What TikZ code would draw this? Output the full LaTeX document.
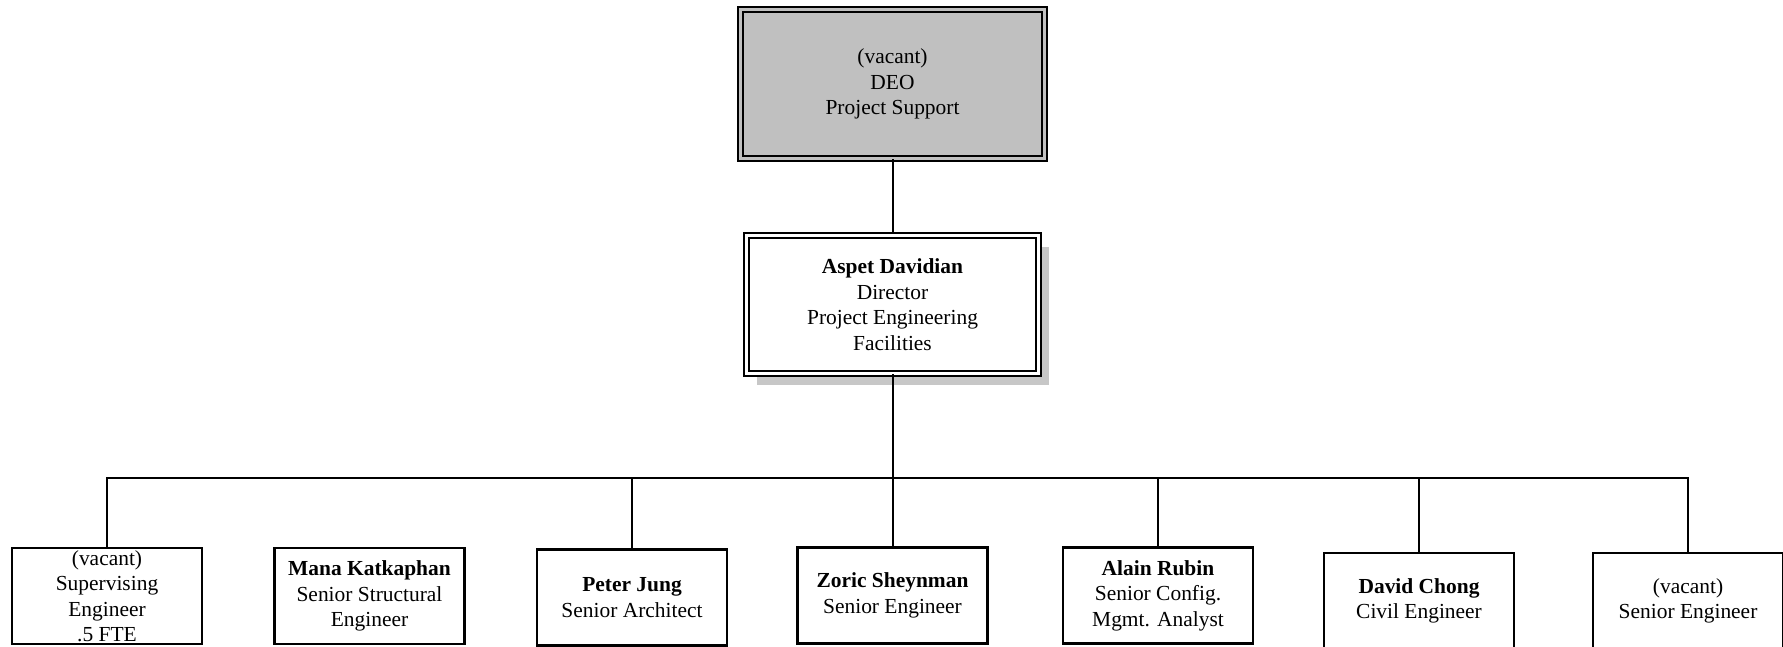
\documentclass[tikz,border=0pt]{standalone}
\usepackage{fontspec}
\setmainfont{Liberation Serif}
\definecolor{ocgray}{RGB}{192,192,192}
\usetikzlibrary{positioning,shadows}

\begin{document}
\begin{tikzpicture}[
  font=\fontsize{12.2}{14.5}\selectfont,
  headbox/.style={draw, double, line width=0.04cm, double distance=0.06cm, align=center, inner sep=0pt},
  staffbox/.style={draw, line width=0.045cm, fill=white, minimum width=3.8cm, minimum height=1.92cm, align=center, inner sep=0pt},
  link/.style={line width=0.04cm}
]
  \useasboundingbox (0,0) rectangle (35.66,12.94);
  \clip (0,0) rectangle (35.66,12.94);

  %% Top: DEO
  \node[headbox, fill=ocgray, double=ocgray, minimum width=6.08cm, minimum height=2.98cm] (deo) at (17.85,11.26) {(vacant)\\DEO\\Project Support};

  %% Director
  \node[headbox, fill=white, double=white, minimum width=5.84cm, minimum height=2.76cm,
        drop shadow={shadow xshift=0.2cm, shadow yshift=-0.24cm, fill=black!22, opacity=1}] (dir) at (17.85,6.85)
        {\textbf{Aspet Davidian}\\Director\\Project Engineering\\Facilities};
  \draw[link] (deo) -- (dir);

  %% Staff row
  \node[staffbox] (sup) at (2.14,1.02) {(vacant)\\Supervising\\Engineer\\.5 FTE};
  \node[staffbox] (mk) at (7.39,1.02) {\textbf{Mana Katkaphan}\\Senior Structural\\Engineer};
  \node[staffbox] (pj) at (12.64,0.99) {\textbf{Peter Jung}\\Senior Architect};
  \node[staffbox] (zs) at (17.85,1.03) {\textbf{Zoric Sheynman}\\Senior Engineer};
  \node[staffbox] (ar) at (23.16,1.03) {\textbf{Alain Rubin}\\Senior Config.\\Mgmt. Analyst};
  \node[staffbox] (dc) at (28.38,0.92) {\textbf{David Chong}\\Civil Engineer};
  \node[staffbox] (vse) at (33.76,0.92) {(vacant)\\Senior Engineer};

  %% Bus line
  \coordinate (bus) at (17.85,3.38);
  \draw[link] (dir.south) -- (bus);
  \draw[link] (bus) -| (sup.north);
  \draw[link] (bus) -| (pj.north);
  \draw[link] (bus) -- (zs.north);
  \draw[link] (bus) -| (ar.north);
  \draw[link] (bus) -| (dc.north);
  \draw[link] (bus) -| (vse.north);
\end{tikzpicture}
\end{document}
